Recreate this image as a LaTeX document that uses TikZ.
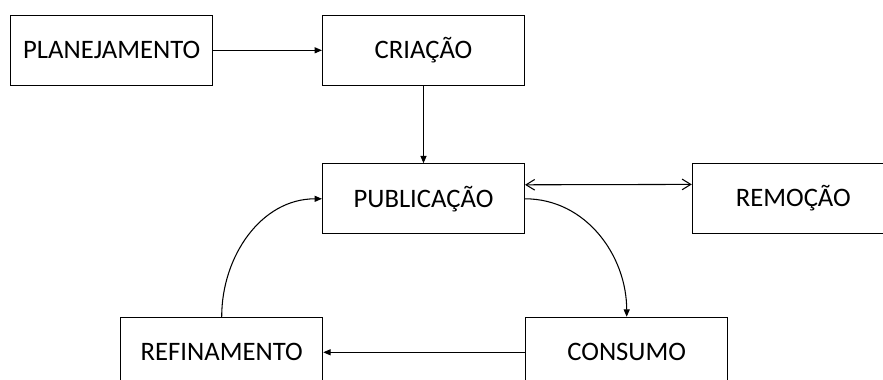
\documentclass[tikz,border=0pt]{standalone}
\usepackage{fontspec}
\setmainfont{Carlito}
\usetikzlibrary{arrows.meta}
\begin{document}
\begin{tikzpicture}[x=0.75pt,y=-0.75pt,
  stagebox/.style={draw=black,line width=0.8pt,minimum width=151.5pt,minimum height=52.5pt,inner sep=0pt,font=\fontsize{20}{24}\selectfont,fill=white},
  conn/.style={line width=0.8pt,-{Triangle[length=5.5pt,width=4.5pt]}},
  biconn/.style={line width=0.8pt,{Straight Barb[length=6.5pt,width=8pt]}-{Straight Barb[length=6.5pt,width=8pt]}}]
\clip (0,0) rectangle (883,379);
\fill[white] (0,0) rectangle (883,379);
\node[stagebox] (plan) at (111.7,50.3) {PLANEJAMENTO};
\node[stagebox] (cri) at (423.5,50.3) {CRIAÇÃO};
\node[stagebox] (pub) at (423.5,198.8) {PUBLICAÇÃO};
\node[stagebox] (rem) at (793.3,198.4) {REMOÇÃO};
\node[stagebox] (ref) at (221.7,352.3) {REFINAMENTO};
\node[stagebox] (con) at (626.7,352.3) {CONSUMO};
\draw[conn] (plan.east) -- (cri.west);
\draw[conn] (cri.south) -- (pub.north);
\draw[biconn] ([yshift=10.5pt]pub.east) -- ([yshift=10.5pt]rem.west);
\draw[conn] (pub.east) to[out=0,in=90] (con.north);
\draw[conn] (con.west) -- (ref.east);
\draw[conn] (ref.north) to[out=90,in=180] (pub.west);
\end{tikzpicture}
\end{document}
